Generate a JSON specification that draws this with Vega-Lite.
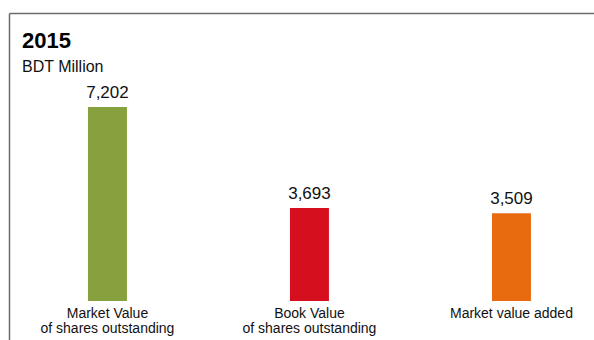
{
  "$schema": "https://vega.github.io/schema/vega-lite/v6.json",
  "width": 585,
  "height": 327,
  "autosize": {"type": "none"},
  "padding": {"left": 9, "top": 13, "right": 0, "bottom": 0},
  "background": "white",
  "title": {
    "text": "2015",
    "subtitle": "BDT Million",
    "anchor": "start",
    "frame": "group",
    "offset": -63,
    "dx": 13,
    "fontSize": 22,
    "fontWeight": "bold",
    "subtitleFontSize": 16,
    "subtitlePadding": 6,
    "color": "#000000",
    "subtitleColor": "#111111",
    "font": "Liberation Sans",
    "subtitleFont": "Liberation Sans"
  },
  "data": {
    "values": [
      {"cat": "A", "label": "Market Value\nof shares outstanding", "value": 7202},
      {"cat": "B", "label": "Book Value\nof shares outstanding", "value": 3693},
      {"cat": "C", "label": "Market value added", "value": 3509}
    ]
  },
  "encoding": {
    "x": {
      "field": "cat",
      "type": "nominal",
      "sort": null,
      "scale": {"paddingInner": 0.807, "paddingOuter": 0.3515, "align": 0.556},
      "axis": {
        "orient": "top",
        "title": null,
        "labels": false,
        "ticks": false,
        "domainColor": "#6b6b6b",
        "domainWidth": 1.5
      }
    }
  },
  "layer": [
    {
      "mark": {"type": "bar"},
      "encoding": {
        "y": {
          "field": "value",
          "type": "quantitative",
          "scale": {"domain": [-892, 10468], "zero": false, "nice": false},
          "axis": {
            "title": null,
            "labels": false,
            "ticks": false,
            "grid": false,
            "domainColor": "#6b6b6b",
            "domainWidth": 1.5
          }
        },
        "y2": {"datum": 462},
        "color": {
          "field": "cat",
          "type": "nominal",
          "scale": {"domain": ["A", "B", "C"], "range": ["#86a13d", "#d50f1e", "#e86b10"]},
          "legend": null
        }
      }
    },
    {
      "mark": {"type": "text", "baseline": "alphabetic", "dy": -9, "fontSize": 17, "font": "Liberation Sans", "color": "#111111"},
      "encoding": {
        "y": {"field": "value", "type": "quantitative"},
        "text": {"field": "value", "type": "quantitative", "format": ","}
      }
    },
    {
      "mark": {"type": "text", "baseline": "top", "lineBreak": "\n", "lineHeight": 15, "fontSize": 14, "font": "Liberation Sans", "color": "#111111"},
      "encoding": {
        "y": {"datum": 240},
        "text": {"field": "label"}
      }
    }
  ],
  "config": {"view": {"stroke": null}}
}
